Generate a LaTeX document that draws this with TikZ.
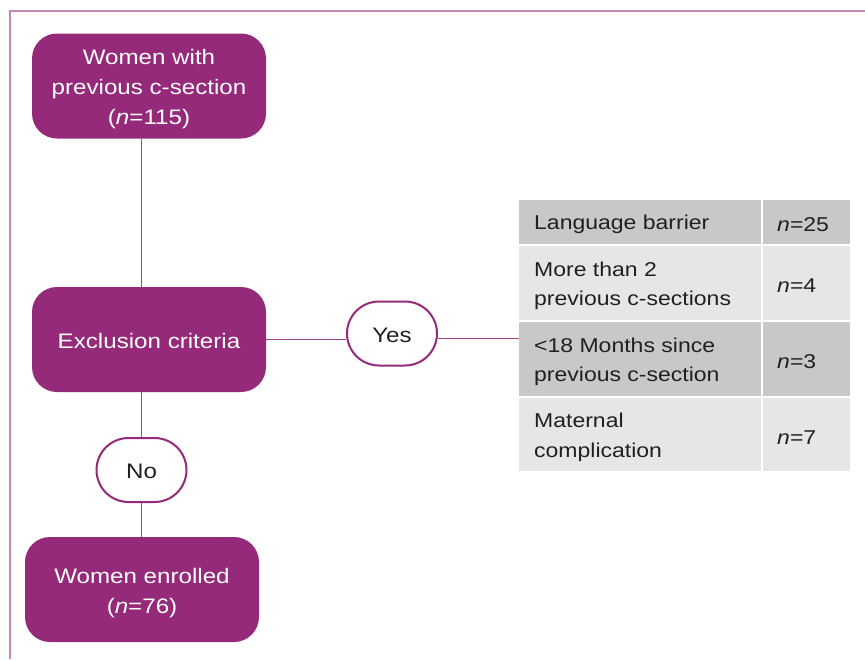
\documentclass[tikz,border=0pt]{standalone}
\usepackage{fontspec}
\setmainfont{Liberation Sans}[FakeStretch=1.15]
\definecolor{plum}{HTML}{952A7A}
\definecolor{linec}{HTML}{A0428A}
\definecolor{framec}{HTML}{C489B8}
\definecolor{darkrow}{HTML}{C8C8C8}
\definecolor{lightrow}{HTML}{E6E6E7}
\definecolor{txt}{HTML}{231F20}
\newcommand\lowtxt[3]{\raisebox{-#1}[\height][\depth]{\parbox{#2}{#3}}}
\tikzset{
  bigbox/.style={fill=plum, draw=none, rounded corners=25pt, minimum width=234pt, minimum height=105pt,
     text=white, align=center, font=\fontsize{21}{30}\selectfont, inner sep=0pt},
  oval/.style={draw=plum, line width=2pt, fill=white, rounded corners=32pt, minimum width=90pt, minimum height=64pt,
     text=txt, font=\fontsize{21}{30}\selectfont, inner sep=0pt},
  conn/.style={draw=linec, line width=1.5pt},
  cella/.style={anchor=north west, minimum width=242pt, inner xsep=15pt, inner ysep=0pt,
     text=txt, font=\fontsize{20}{29.5}\selectfont},
  cellb/.style={anchor=north west, minimum width=87pt, inner xsep=14pt, inner ysep=0pt,
     text=txt, font=\fontsize{20}{29.5}\selectfont},
}
\begin{document}
\begin{tikzpicture}[x=1pt,y=-1pt]
\useasboundingbox (0,0) rectangle (865,659);
\fill[white] (0,0) rectangle (865,659);
% frame
\draw[framec, line width=1.5pt] (10,659) -- (10,11) -- (865,11);
% boxes
\node[bigbox] (b1) at (149,86) {\lowtxt{3.5pt}{234pt}{\centering Women with\\previous c-section\\(\textit{n}=115)}};
\node[bigbox] (b2) at (149,339.5) {\lowtxt{1.5pt}{234pt}{\centering Exclusion criteria}};
\node[bigbox] (b3) at (142,589.5) {\lowtxt{3.5pt}{234pt}{\centering Women enrolled\\(\textit{n}=76)}};
\node[oval] (no) at (141.5,470) {\raisebox{-1.5pt}[\height][\depth]{No}};
\node[oval] (yes) at (392,333.5) {\raisebox{-1.5pt}[\height][\depth]{Yes}};
% table
\node[cella, fill=darkrow,  minimum height=44pt] (r1a) at (519,200) {\lowtxt{2.5pt}{212pt}{\raggedright Language barrier}};
\node[cellb, fill=darkrow,  minimum height=44pt] (r1b) at (763,200) {\lowtxt{2.5pt}{59pt}{\raggedright\textit{n}=25}};
\node[cella, fill=lightrow, minimum height=74pt] (r2a) at (519,246) {\lowtxt{2.5pt}{212pt}{\raggedright More than 2\\previous c-sections}};
\node[cellb, fill=lightrow, minimum height=74pt] (r2b) at (763,246) {\lowtxt{2.5pt}{59pt}{\raggedright\textit{n}=4}};
\node[cella, fill=darkrow,  minimum height=74pt] (r3a) at (519,322) {\lowtxt{2.5pt}{212pt}{\raggedright <18 Months since\\previous c-section}};
\node[cellb, fill=darkrow,  minimum height=74pt] (r3b) at (763,322) {\lowtxt{2.5pt}{59pt}{\raggedright\textit{n}=3}};
\node[cella, fill=lightrow, minimum height=73pt] (r4a) at (519,398) {\lowtxt{2.5pt}{212pt}{\raggedright Maternal\\complication}};
\node[cellb, fill=lightrow, minimum height=73pt] (r4b) at (763,398) {\lowtxt{2.5pt}{59pt}{\raggedright\textit{n}=7}};
% connectors
\draw[conn] (b1.south -| no) -- (b2.north -| no);
\draw[conn] (b2.south -| no) -- (no.north);
\draw[conn] (no.south) -- (b3.north -| no);
\draw[conn] (b2.east) -- (b2.east -| yes.west);
\coordinate (tin) at (r3a.west |- 0,338.5);
\draw[conn] (yes.east |- tin) -- (tin);
\end{tikzpicture}
\end{document}
